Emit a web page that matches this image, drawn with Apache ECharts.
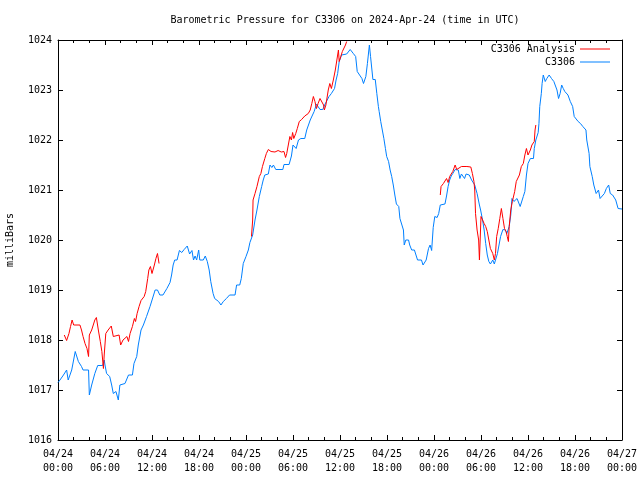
<!DOCTYPE html>
<html><head><meta charset="utf-8">
<script src="https://cdn.jsdelivr.net/npm/echarts@6/dist/echarts.min.js"></script>
<style>html,body{margin:0;padding:0;background:#fff}#c{width:640px;height:480px}</style>
</head><body><div id="c"></div>
<script>
const tickLabels = ["04/24\n00:00","04/24\n06:00","04/24\n12:00","04/24\n18:00","04/25\n00:00","04/25\n06:00","04/25\n12:00","04/25\n18:00","04/26\n00:00","04/26\n06:00","04/26\n12:00","04/26\n18:00","04/27\n00:00"];
// hours since 04/24 00:00 UTC
const stationHours = [0.0,0.25,0.7,1.1,1.3,1.75,2.2,2.4,2.6,3.0,3.2,3.9,4.0,4.3,4.5,4.7,5.07,5.7,5.9,6.0,6.2,6.6,6.85,7.06,7.4,7.7,7.9,8.55,9.0,9.5,9.7,10.05,10.25,10.6,10.9,11.3,11.75,12.0,12.4,12.7,13.0,13.4,13.9,14.3,14.5,14.7,14.9,15.2,15.5,15.8,16.1,16.5,16.8,17.1,17.3,17.5,17.7,17.96,18.1,18.55,18.8,19.06,19.3,19.5,19.8,20.0,20.5,20.8,21.1,21.5,21.9,22.6,22.8,23.2,23.4,23.65,24.0,24.3,24.5,24.85,25.15,25.4,25.7,26.0,26.2,26.4,26.85,27.06,27.3,27.5,27.8,28.7,28.85,29.5,29.8,30.0,30.4,30.7,31.0,31.5,31.75,32.2,32.4,32.7,33.0,33.2,33.45,33.8,34.1,34.35,34.6,34.9,35.3,35.5,35.7,35.9,36.2,36.85,37.3,37.7,38.0,38.2,38.45,38.8,39.0,39.3,39.5,39.75,39.9,40.2,40.5,40.7,40.9,41.0,41.2,41.4,41.6,41.8,41.96,42.2,42.4,42.6,42.8,43.0,43.2,43.5,43.65,43.9,44.1,44.2,44.4,44.75,44.9,45.15,45.5,45.7,45.9,46.4,46.6,47.0,47.3,47.5,47.7,47.9,48.1,48.4,48.6,48.8,49.4,49.6,49.8,50.0,50.2,50.4,50.7,51.1,51.3,51.5,51.7,51.9,52.1,52.5,52.8,53.0,53.2,53.5,53.8,53.95,54.2,54.4,54.6,54.8,55.0,55.2,55.5,55.7,55.9,56.1,56.3,56.5,56.8,57.1,57.3,57.5,57.6,57.8,57.95,58.2,58.4,58.6,58.8,59.0,59.2,59.4,59.6,59.8,60.0,60.3,60.7,60.8,61.0,61.3,61.4,61.5,61.7,61.8,61.95,62.2,62.4,62.7,63.0,63.3,63.55,63.7,63.9,64.1,64.3,64.5,64.7,64.9,65.1,65.4,65.7,65.9,66.1,66.4,66.7,67.0,67.4,67.5,67.8,67.9,68.2,68.4,68.7,69.0,69.2,69.45,69.75,70.0,70.3,70.5,70.8,71.2,71.5,71.7,72.0];
const stationPressure = [1017.15,1017.2,1017.3,1017.4,1017.2,1017.4,1017.77,1017.73,1017.57,1017.47,1017.4,1017.4,1016.9,1017.1,1017.1,1017.33,1017.49,1017.49,1017.6,1017.5,1017.33,1017.27,1017.1,1016.93,1016.97,1016.8,1017.1,1017.13,1017.3,1017.3,1017.53,1017.67,1017.9,1018.2,1018.3,1018.47,1018.67,1018.7,1019.0,1019.0,1018.9,1018.9,1019.03,1019.15,1019.3,1019.5,1019.6,1019.6,1019.79,1019.75,1019.81,1019.88,1019.72,1019.79,1019.6,1019.68,1019.6,1019.8,1019.6,1019.6,1019.68,1019.57,1019.4,1019.17,1018.93,1018.83,1018.77,1018.7,1018.77,1018.83,1018.9,1018.9,1019.1,1019.1,1019.23,1019.53,1019.67,1019.8,1019.95,1020.1,1020.4,1020.6,1020.87,1021.07,1021.2,1021.3,1021.32,1021.5,1021.45,1021.5,1021.41,1021.41,1021.51,1021.51,1021.68,1021.9,1021.83,1022.0,1022.03,1022.03,1022.2,1022.4,1022.43,1022.57,1022.72,1022.67,1022.61,1022.61,1022.72,1022.72,1022.87,1022.93,1023.03,1023.2,1023.33,1023.57,1023.7,1023.72,1023.81,1023.73,1023.67,1023.37,1023.34,1023.23,1023.13,1023.27,1023.53,1023.9,1023.67,1023.21,1023.21,1022.93,1022.67,1022.57,1022.37,1022.2,1022.03,1021.83,1021.67,1021.57,1021.4,1021.27,1021.1,1020.9,1020.72,1020.67,1020.43,1020.43,1020.2,1019.9,1020.0,1020.0,1019.9,1019.8,1019.8,1019.7,1019.6,1019.6,1019.5,1019.6,1019.83,1019.9,1019.79,1020.25,1020.47,1020.45,1020.53,1020.7,1020.72,1020.88,1021.07,1021.2,1021.28,1021.33,1021.41,1021.4,1021.23,1021.32,1021.32,1021.23,1021.32,1021.3,1021.2,1021.23,1021.1,1020.93,1020.7,1020.6,1020.4,1020.2,1019.93,1019.7,1019.57,1019.52,1019.6,1019.52,1019.5,1019.73,1019.9,1020.07,1020.21,1020.2,1020.13,1020.13,1020.27,1020.5,1020.83,1020.77,1020.73,1020.83,1020.87,1020.67,1020.7,1020.87,1020.97,1021.3,1021.53,1021.63,1021.63,1021.83,1022.0,1022.15,1022.33,1022.67,1022.93,1023.13,1023.3,1023.17,1023.23,1023.3,1023.23,1023.17,1023.13,1023.0,1022.83,1022.93,1023.1,1023.03,1022.97,1022.93,1022.9,1022.77,1022.67,1022.47,1022.43,1022.37,1022.33,1022.27,1022.2,1022.0,1021.73,1021.47,1021.27,1021.1,1020.93,1021.0,1020.83,1020.83,1020.93,1021.03,1021.1,1020.93,1020.9,1020.8,1020.63,1020.67,1020.62];
// analysis: null marks a gap
const analysisHours = [0.8,1.1,1.4,1.6,1.8,2.0,2.8,3.0,3.2,3.45,3.7,3.9,4.0,4.3,4.5,4.7,4.9,5.15,5.4,5.6,5.8,5.9,6.1,6.4,6.8,6.9,7.06,7.8,8.0,8.3,8.8,9.0,9.2,9.5,9.75,9.9,10.1,10.35,10.6,10.8,11.0,11.2,11.45,11.6,11.8,12.0,12.3,12.5,12.7,12.9,
 18.0,
 24.7,24.85,24.9,25.15,25.4,25.7,25.9,26.1,26.4,26.6,26.85,27.2,27.7,28.1,28.5,28.85,29.05,29.2,29.4,29.6,29.8,29.95,30.1,30.35,30.55,30.8,31.1,31.5,31.95,32.2,32.4,32.6,32.8,33.0,33.2,33.45,33.7,33.9,34.0,34.2,34.5,34.7,34.9,35.15,35.4,35.6,35.8,35.9,36.1,36.3,36.5,36.7,36.85,
 42.0,
 48.8,48.9,49.2,49.4,49.6,49.8,50.0,50.4,50.7,50.9,51.1,51.5,52.2,52.7,52.9,53.1,53.2,53.3,53.5,53.7,53.8,54.0,54.2,54.4,54.6,54.8,55.0,55.2,55.5,55.7,55.85,56.0,56.2,56.4,56.6,56.8,57.0,57.2,57.35,57.5,57.6,57.8,58.0,58.3,58.5,58.7,58.9,59.15,59.4,59.6,59.8,60.0,60.3,60.5,60.8,60.9,61.0];
const analysisPressure = [1018.1,1017.99,1018.13,1018.27,1018.4,1018.3,1018.3,1018.2,1018.07,1017.93,1017.83,1017.67,1018.1,1018.2,1018.3,1018.4,1018.45,1018.2,1017.97,1017.77,1017.43,1017.7,1018.13,1018.2,1018.28,1018.2,1018.07,1018.1,1017.9,1018.0,1018.07,1017.97,1018.13,1018.27,1018.43,1018.37,1018.53,1018.67,1018.79,1018.75,1018.87,1018.97,1019.23,1019.4,1019.47,1019.33,1019.5,1019.63,1019.73,1019.53,
 null,
 1020.07,1020.4,1020.8,1020.93,1021.07,1021.27,1021.33,1021.47,1021.63,1021.73,1021.81,1021.77,1021.76,1021.79,1021.76,1021.77,1021.65,1021.73,1021.9,1022.07,1022.0,1022.15,1022.03,1022.13,1022.23,1022.37,1022.41,1022.48,1022.53,1022.6,1022.73,1022.87,1022.77,1022.63,1022.73,1022.83,1022.87,1022.7,1022.6,1022.7,1023.0,1023.13,1023.03,1023.2,1023.4,1023.6,1023.8,1023.57,1023.67,1023.77,1023.8,1023.9,1023.97,
 null,
 1020.9,1021.07,1021.13,1021.15,1021.23,1021.15,1021.27,1021.37,1021.5,1021.41,1021.43,1021.47,1021.47,1021.46,1021.33,1021.17,1021.0,1020.53,1020.2,1020.0,1019.6,1020.47,1020.43,1020.33,1020.27,1020.17,1020.0,1019.83,1019.73,1019.6,1019.73,1020.07,1020.23,1020.43,1020.63,1020.43,1020.23,1020.17,1020.07,1019.97,1020.27,1020.6,1020.77,1020.97,1021.17,1021.2,1021.3,1021.47,1021.53,1021.7,1021.83,1021.7,1021.8,1021.9,1021.97,1022.2,1022.3];

const FONT = 'DejaVu Sans Mono';
const FS = 10;
const stationData = stationHours.map((h,i)=>[h, stationPressure[i]]);
const analysisData = analysisHours.map((h,i)=>[h, analysisPressure[i] === null ? '-' : analysisPressure[i]]);

const chart = echarts.init(document.getElementById('c'), null, {renderer:'canvas'});
const axisCommon = {
  axisLine:{show:true, onZero:false, lineStyle:{color:'#000', width:1}},
  axisTick:{show:true, inside:true, length:5, lineStyle:{color:'#000'}},
  splitLine:{show:false}
};
const legendText = {fontFamily:FONT, fontSize:FS, color:'#000'};
chart.setOption({
  animation:false,
  backgroundColor:'#fff',
  title:{text:'Barometric Pressure for C3306 on 2024-Apr-24 (time in UTC)', left:340, textAlign:'center', top:10,
    textStyle:{fontFamily:FONT, fontSize:FS, fontWeight:'normal', color:'#000'}},
  legend:[
    {data:['C3306 Analysis'], right:30, top:44, align:'right', icon:'rect', itemWidth:30, itemHeight:1, padding:0,
     textStyle:legendText},
    {data:['C3306'], right:30, top:57, align:'right', icon:'rect', itemWidth:30, itemHeight:1, padding:0,
     textStyle:legendText}
  ],
  grid:{left:58, right:18, top:40, bottom:40, containLabel:false, outerBoundsMode:'none'},
  xAxis:[
    Object.assign({type:'value', min:0, max:72, interval:6, position:'bottom',
      minorTick:{show:true, splitNumber:3, length:3, lineStyle:{color:'#000'}},
      axisLabel:{fontFamily:FONT, fontSize:FS, color:'#000', margin:7, lineHeight:14,
        formatter:v=>tickLabels[Math.round(v/6)] || ''}}, axisCommon),
    Object.assign({type:'value', min:0, max:72, interval:6, position:'top',
      minorTick:{show:true, splitNumber:3, length:3, lineStyle:{color:'#000'}},
      axisLabel:{show:false}}, axisCommon)
  ],
  yAxis:[
    Object.assign({type:'value', min:1016, max:1024, interval:1, position:'left',
      name:'milliBars', nameLocation:'middle', nameGap:43, nameRotate:90,
      nameTextStyle:{fontFamily:FONT, fontSize:FS, color:'#000'},
      axisLabel:{fontFamily:FONT, fontSize:FS, color:'#000', margin:6, formatter:v=>String(v)}}, axisCommon),
    Object.assign({type:'value', min:1016, max:1024, interval:1, position:'right',
      axisLabel:{show:false}}, axisCommon)
  ],
  series:[
    {name:'C3306 Analysis', type:'line', xAxisIndex:0, yAxisIndex:0, data:analysisData, showSymbol:false, symbol:'none',
      connectNulls:false, lineStyle:{color:'#ff0000', width:1}, itemStyle:{color:'#ff0000'}, z:3},
    {name:'C3306', type:'line', xAxisIndex:0, yAxisIndex:0, data:stationData, showSymbol:false, symbol:'none',
      lineStyle:{color:'#0080ff', width:1}, itemStyle:{color:'#0080ff'}, z:2}
  ]
});
</script></body></html>
